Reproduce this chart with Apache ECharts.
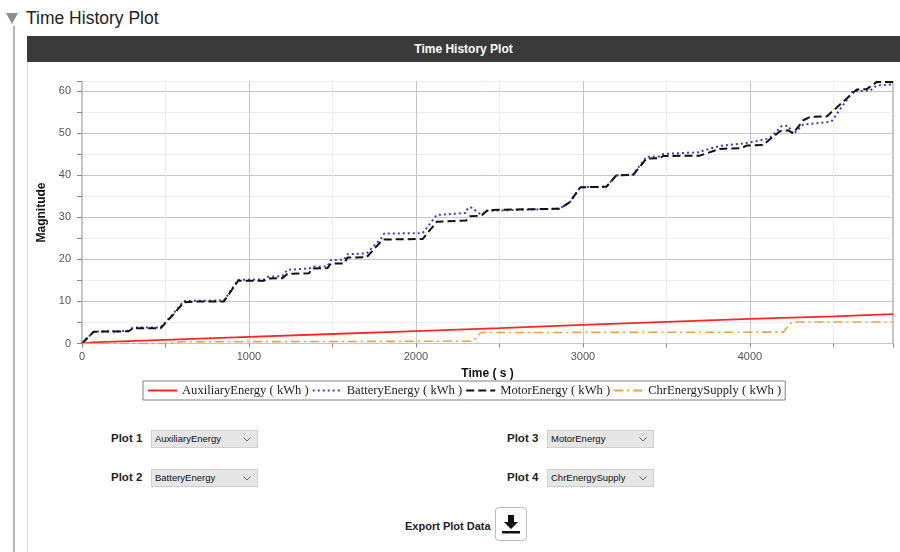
<!DOCTYPE html>
<html>
<head>
<meta charset="utf-8">
<script src="https://cdn.jsdelivr.net/npm/echarts@6/dist/echarts.min.js"></script>
<style>
  html, body { margin: 0; padding: 0; background: #fff; width: 900px; height: 552px; overflow: hidden; font-family: "Liberation Sans", Arial, sans-serif; }
  #chart { position: absolute; left: 0; top: 0; width: 900px; height: 410px; }
  .abs { position: absolute; }
  #tri { left: 6px; top: 13px; width: 0; height: 0; border-left: 6px solid transparent; border-right: 6px solid transparent; border-top: 11px solid #8c8c8c; }
  #vline { left: 13px; top: 26px; width: 2px; height: 530px; background: #b4b4b4; }
  #hdr { left: 26px; top: 8px; font-size: 17.5px; color: #222; }
  #bar { left: 27px; top: 36px; width: 873px; height: 26px; background: #3a3a3a; color: #fff; font-weight: bold; font-size: 12px; line-height: 26px; text-align: center; }
  #panel { left: 27px; top: 62px; width: 872px; height: 500px; border-left: 1px solid #d8d8d8; }
  .lbl { font-size: 11.5px; font-weight: bold; color: #222; }
  .sel { background: #e6e6e6; border: 1px solid #cfcfcf; font-size: 9.5px; color: #111; line-height: 16px; padding-left: 3px; box-sizing: border-box; height: 18px; width: 107px; }
  .sel svg { position: absolute; right: 6px; top: 6px; }
  #btn { left: 495px; top: 507px; width: 32px; height: 34px; border: 1px solid #bcbcbc; border-radius: 4px; box-sizing: border-box; background: #fff; }
</style>
</head>
<body>
<div id="tri" class="abs"></div>
<div id="vline" class="abs"></div>
<div id="hdr" class="abs">Time History Plot</div>
<div id="panel" class="abs"></div>
<div id="bar" class="abs">Time History Plot</div>
<div id="chart"></div>

<div class="abs lbl" style="left:111px; top:432px;">Plot 1</div>
<div class="abs sel" style="left:151px; top:430px;">AuxiliaryEnergy<svg width="8" height="5" viewBox="0 0 8 5"><polyline points="0.5,0.5 4,4 7.5,0.5" fill="none" stroke="#666" stroke-width="1"/></svg></div>
<div class="abs lbl" style="left:111px; top:471px;">Plot 2</div>
<div class="abs sel" style="left:151px; top:469px;">BatteryEnergy<svg width="8" height="5" viewBox="0 0 8 5"><polyline points="0.5,0.5 4,4 7.5,0.5" fill="none" stroke="#666" stroke-width="1"/></svg></div>
<div class="abs lbl" style="left:507px; top:432px;">Plot 3</div>
<div class="abs sel" style="left:547px; top:430px;">MotorEnergy<svg width="8" height="5" viewBox="0 0 8 5"><polyline points="0.5,0.5 4,4 7.5,0.5" fill="none" stroke="#666" stroke-width="1"/></svg></div>
<div class="abs lbl" style="left:507px; top:471px;">Plot 4</div>
<div class="abs sel" style="left:547px; top:469px;">ChrEnergySupply<svg width="8" height="5" viewBox="0 0 8 5"><polyline points="0.5,0.5 4,4 7.5,0.5" fill="none" stroke="#666" stroke-width="1"/></svg></div>

<div class="abs lbl" style="left:405px; top:520px; font-size:11px;">Export Plot Data</div>
<div id="btn" class="abs"><svg width="30" height="32" viewBox="0 0 30 32"><polygon points="12,7 18,7 18,14 22,14 15,21 8,14 12,14" fill="#111"/><rect x="6" y="23" width="18" height="2.5" fill="#111"/></svg></div>

<script>
// ---- data ----
const seriesNames = ['AuxiliaryEnergy ( kWh )', 'BatteryEnergy ( kWh )', 'MotorEnergy ( kWh )', 'ChrEnergySupply ( kWh )'];

const auxTime   = [0, 60, 500, 1000, 1500, 2000, 2500, 3000, 3500, 4000, 4500, 4857];
const auxValues = [0, 0.25, 0.85, 1.55, 2.25, 2.95, 3.65, 4.4, 5.15, 5.85, 6.45, 6.95];

const batteryTime   = [0, 70, 280, 305, 470, 545, 610, 850, 935, 1090, 1110, 1200, 1230, 1360, 1380, 1470, 1490, 1570, 1590, 1705, 1790, 1810, 2040, 2124, 2300, 2311, 2330, 2395, 2430, 2860, 2920, 2985, 3140, 3200, 3300, 3380, 3460, 3480, 3700, 3720, 3820, 3980, 4080, 4120, 4189, 4230, 4259, 4320, 4470, 4490, 4617, 4720, 4760, 4857];
const batteryValues = [0, 2.8, 3.0, 3.8, 3.8, 7.0, 10.1, 10.2, 15.1, 15.2, 15.8, 16.0, 17.5, 17.8, 18.2, 18.3, 19.8, 19.9, 21.2, 21.4, 24.9, 26.1, 26.2, 30.5, 31.0, 32.2, 32.3, 30.5, 31.5, 32.0, 33.5, 37.1, 37.2, 39.9, 40.1, 44.3, 44.4, 45.0, 45.4, 45.8, 46.9, 47.6, 48.4, 48.8, 51.6, 51.7, 49.7, 52.0, 52.6, 52.8, 59.9, 60.0, 61.3, 61.5];

const motorTime   = [0, 70, 280, 305, 470, 545, 610, 700, 850, 935, 1090, 1110, 1200, 1230, 1360, 1380, 1470, 1490, 1570, 1590, 1705, 1790, 1810, 2040, 2124, 2300, 2324, 2370, 2395, 2430, 2860, 2920, 2985, 3140, 3200, 3300, 3380, 3460, 3480, 3700, 3820, 3950, 3980, 4080, 4120, 4180, 4230, 4259, 4320, 4360, 4460, 4640, 4700, 4760, 4857];
const motorValues = [0, 2.8, 2.9, 3.6, 3.6, 6.8, 9.8, 10.0, 10.0, 14.9, 14.9, 15.4, 15.5, 16.5, 16.7, 17.8, 17.9, 19.0, 19.0, 20.4, 20.5, 24.2, 24.7, 24.8, 28.9, 29.2, 30.2, 30.3, 30.5, 31.7, 32.0, 33.5, 37.1, 37.2, 39.9, 40.0, 43.9, 44.0, 44.5, 44.6, 46.2, 46.4, 47.0, 47.1, 48.5, 50.4, 50.6, 49.9, 53.0, 53.8, 53.9, 60.3, 60.4, 62.1, 62.1];

const chrTime   = [0, 500, 600, 2340, 2390, 4200, 4250, 4857];
const chrValues = [0, 0, 0.4, 0.55, 2.6, 2.7, 5.1, 5.1];

const xTickLabels = [0, 1000, 2000, 3000, 4000];
const yTickLabels = [0, 10, 20, 30, 40, 50, 60];

function pairs(t, v) { return t.map((x, i) => [x, v[i]]); }

const chart = echarts.init(document.getElementById('chart'), null, { renderer: 'canvas' });
chart.setOption({
  animation: false,
  grid: { left: 82, top: 81.5, width: 811, height: 262, show: true, borderColor: '#8a8a8a', borderWidth: 1, backgroundColor: 'transparent' },
  legend: {
    left: 143, top: 381, orient: 'horizontal',
    data: seriesNames,
    itemWidth: 29, itemHeight: 10, itemGap: 3,
    padding: [3, 4, 3, 4],
    itemStyle: { opacity: 0 },
    borderColor: '#808080', borderWidth: 1, backgroundColor: '#fff',
    textStyle: { fontFamily: 'Liberation Serif', fontSize: 12.6, color: '#222' }
  },
  xAxis: {
    type: 'value', min: 0, max: 4857, interval: 500,
    name: 'Time ( s )', nameLocation: 'middle', nameGap: 24,
    nameTextStyle: { fontWeight: 'bold', fontSize: 12, color: '#111', fontFamily: 'Liberation Sans' },
    axisLine: { show: false },
    axisTick: { show: true, length: 4, lineStyle: { color: '#888' } },
    axisLabel: { color: '#555', fontSize: 11, margin: 8, fontFamily: 'Liberation Sans',
      formatter: v => xTickLabels.indexOf(v) >= 0 ? String(v) : '' },
    splitLine: { show: true, lineStyle: { color: ['#c6c6c6', '#ececec'], width: 1 } }
  },
  yAxis: {
    type: 'value', min: 0, max: 62.2, interval: 5,
    name: 'Magnitude', nameLocation: 'middle', nameGap: 33, nameRotate: 90,
    nameTextStyle: { fontWeight: 'bold', fontSize: 12, color: '#111', fontFamily: 'Liberation Sans' },
    axisLine: { show: false },
    axisTick: { show: true, length: 5, lineStyle: { color: '#888' } },
    axisLabel: { color: '#555', fontSize: 11, margin: 11, fontFamily: 'Liberation Sans',
      formatter: v => yTickLabels.indexOf(v) >= 0 ? String(v) : '' },
    splitLine: { show: true, lineStyle: { color: ['#c6c6c6', '#ececec'], width: 1 } }
  },
  series: [
    { name: seriesNames[0], type: 'line', symbol: 'none', data: pairs(auxTime, auxValues),
      lineStyle: { color: '#ff2626', width: 1.8 }, itemStyle: { color: '#ff2626' } },
    { name: seriesNames[1], type: 'line', symbol: 'none', data: pairs(batteryTime, batteryValues),
      lineStyle: { color: '#3d3dc0', width: 2, type: [2, 3] }, itemStyle: { color: '#3d3dc0' } },
    { name: seriesNames[2], type: 'line', symbol: 'none', data: pairs(motorTime, motorValues),
      lineStyle: { color: '#111', width: 2, type: [8, 4] }, itemStyle: { color: '#111' } },
    { name: seriesNames[3], type: 'line', symbol: 'none', data: pairs(chrTime, chrValues),
      lineStyle: { color: '#f0a048', width: 1.6, type: [9, 4, 2, 4] }, itemStyle: { color: '#f0a048' } }
  ]
});
</script>
</body>
</html>
